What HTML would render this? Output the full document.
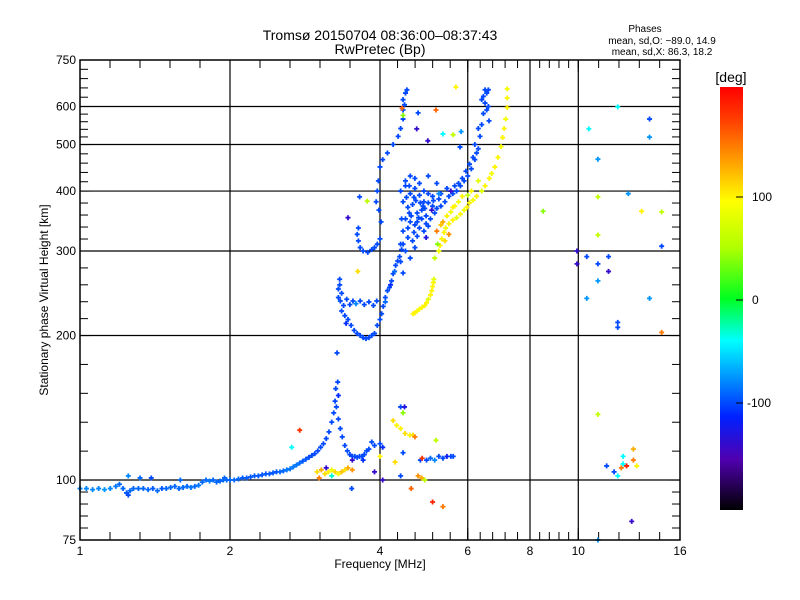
<!DOCTYPE html>
<html><head><meta charset="utf-8"><style>
body{margin:0;background:#fff;}
svg{display:block;font-family:"Liberation Sans",sans-serif;}
</style></head><body>
<svg id="chart" width="800" height="600" viewBox="0 0 800 600">
<defs>
<linearGradient id="cb" x1="0" y1="0" x2="0" y2="1">
<stop offset="0" stop-color="#ff0000"/>
<stop offset="0.08" stop-color="#ff4000"/>
<stop offset="0.17" stop-color="#ff9a00"/>
<stop offset="0.27" stop-color="#ffff00"/>
<stop offset="0.38" stop-color="#b0ff00"/>
<stop offset="0.50" stop-color="#00ff20"/>
<stop offset="0.60" stop-color="#00ffff"/>
<stop offset="0.69" stop-color="#0090ff"/>
<stop offset="0.78" stop-color="#0020ff"/>
<stop offset="0.88" stop-color="#5000b0"/>
<stop offset="1" stop-color="#000000"/>
</linearGradient>
</defs>
<text x="380" y="40" font-size="14" text-anchor="middle">Tromsø 20150704 08:36:00–08:37:43</text>
<text x="380" y="54" font-size="14" text-anchor="middle">RwPretec (Bp)</text>
<g font-size="10" text-anchor="middle">
<text x="645" y="32">Phases</text>
<text x="662" y="44">mean, sd,O: −89.0, 14.9</text>
<text x="662" y="55">mean, sd,X:  86.3, 18.2</text>
</g>
<g id="grid"></g>
<g id="ticks"></g>
<g id="marks"></g>
<rect x="80" y="60" width="600" height="480" fill="none" stroke="#000" stroke-width="1.5"/>
<g id="xlabels" font-size="12" text-anchor="middle"></g>
<g id="ylabels" font-size="12" text-anchor="end"></g>
<text x="380" y="568" font-size="12" text-anchor="middle">Frequency [MHz]</text>
<text x="48" y="300" font-size="12" text-anchor="middle" transform="rotate(-90 48 300)">Stationary phase Virtual Height [km]</text>
<rect x="720" y="87" width="23" height="423" fill="url(#cb)"/>
<text x="731" y="82" font-size="14" text-anchor="middle">[deg]</text>
<g id="cblabels" font-size="12"></g>
</svg>
<script>
const xMajor=[1,2,4,6,8,10,16];
const xGrid=[2,4,6,8,10];
const yMajor=[75,100,200,300,400,500,600,750];
const yGrid=[100,200,300,400,500,600];
const cbTicks=[100,0,-100];
// [freq MHz, height km, phase deg]
const eTrace=[[1.00,96,-80],[1.03,96,-80],[1.06,95.5,-80],[1.09,96,-80],[1.12,95.5,-75],[1.15,96,-80],[1.18,97,-85],[1.20,98,-90],[1.22,96,-90],[1.24,94,-95],[1.26,95,-90],[1.28,96,-90],[1.31,96,-90],[1.34,96,-90],[1.37,95.5,-90],[1.40,96,-95],[1.43,95,-90],[1.46,96,-95],[1.49,96,-90],[1.52,96.5,-90],[1.55,97,-90],[1.58,96,-90],[1.61,96.5,-90],[1.64,97,-90],[1.67,96.5,-85],[1.70,97,-90],[1.73,97.5,-85],[1.76,99,-90],[1.79,100,-90],[1.82,99.5,-85],[1.85,100,-90],[1.88,99,-90],[1.91,99.5,-90],[1.94,100,-90],[1.97,100,-90],[2.00,100,-90],[2.04,100,-90],[2.08,100.5,-90],[2.12,101,-95],[2.16,101,-95],[2.20,101.5,-95],[2.24,102,-95],[2.28,102,-95],[2.32,102.5,-95],[2.36,103,-95],[2.40,103,-95],[2.44,103.5,-95],[2.48,104,-95],[2.52,104,-90],[2.56,104.5,-90],[2.60,105,-85],[2.64,105.5,-85],[2.68,106.5,-85],[2.72,107.5,-85],[2.76,108.5,-90],[2.80,109.5,-95],[2.84,110.5,-95],[2.88,111.5,-100],[2.92,112.5,-100],[2.96,113.5,-100],[3.00,115,-100],[3.04,117,-100],[3.08,119,-100],[3.12,122,-100],[3.16,126,-100],[3.20,132,-100],[3.23,138,-100],[3.25,146,-100],[3.27,142,-100],[3.30,134,-100],[3.33,128,-100],[3.36,123,-100],[3.40,118,-100],[3.44,115,-100],[3.48,113,-100],[3.52,112,-100],[3.56,112,-100],[3.60,111.5,-100],[3.64,112,-100],[3.68,112,-100],[3.72,113,-100],[3.76,115,-100],[3.80,116,-100],[3.26,155,-100],[3.29,160,-100],[3.30,150,-110],[1.25,93,-100],[1.25,102,-80],[1.32,101,-90],[1.39,101,-100],[1.59,100,-90],[1.95,101,-90],[3.85,120,-100],[3.90,118,-100],[4.00,119,-100],[4.05,117,-110],[3.70,110,-110]];
const eScatter=[[2.76,127,180],[2.66,117,-40],[2.99,104,110],[3.05,105,130],[3.10,103,110],[3.15,104,100],[3.20,105,90],[3.25,104,110],[3.30,103,100],[3.35,104,120],[3.40,105,110],[3.45,106,130],[3.52,105,140],[3.02,101,150],[3.12,106,-140],[3.20,102,-30],[3.51,96,-100],[3.90,104,-140],[3.52,110,-140],[4.40,142,-100],[4.48,142,-130],[4.45,138,40],[4.25,133,110],[4.32,130,100],[4.40,128,100],[4.49,125,110],[4.59,124,100],[4.66,124,110],[4.70,123,150],[4.45,114,-100],[4.29,109,110],[4.82,110,-100],[4.86,111,180],[4.96,110,-100],[5.05,111,-90],[5.15,110,-80],[5.25,112,-100],[5.35,111,-100],[5.45,112,-120],[5.55,112,-100],[5.61,112,-100],[4.77,102,140],[4.85,101,130],[4.92,100,60],[5.18,121,60],[4.62,96,160],[5.10,90,190],[5.35,88,150],[4.40,102,-100],[4.05,100,-140],[4.00,112,100]];
const fLeft=[[3.30,250,-100],[3.32,255,-100],[3.35,245,-100],[3.30,240,-100],[3.33,236,-100],[3.38,231,-100],[3.43,238,-100],[3.48,232,-100],[3.53,236,-100],[3.58,233,-80],[3.65,236,-100],[3.72,232,-100],[3.80,235,-100],[3.88,231,-100],[3.94,236,-100],[3.35,225,-100],[3.40,220,-100],[3.45,216,-100],[3.50,210,-100],[3.55,205,-100],[3.60,202,-100],[3.65,200,-100],[3.70,198,-100],[3.75,197,-100],[3.80,198,-100],[3.85,200,-100],[3.90,202,-100],[3.42,212,-110],[3.32,262,-100],[3.60,325,-100],[3.62,315,-100],[3.65,305,-100],[3.70,300,-100],[3.78,298,-100],[3.85,302,-100],[3.90,305,-100],[3.95,310,-100],[4.00,318,-100],[3.62,335,-100],[3.45,352,-140],[3.77,381,60],[3.64,389,-100],[3.28,184,-100],[3.61,272,110]];
const fRise=[[3.95,210,-100],[4.00,216,-100],[4.03,222,-100],[4.06,230,-100],[4.10,240,-100],[4.14,248,-100],[4.18,252,-100],[4.22,260,-100],[4.25,269,-100],[4.30,280,-100],[4.34,286,-100],[4.38,292,-100],[4.42,302,-100],[4.45,310,-100],[4.10,235,-90],[4.20,255,-110],[4.28,272,-90],[3.95,400,-100],[3.97,420,-100],[4.00,449,-100],[4.05,465,-100],[4.14,480,-100],[4.25,500,-100],[4.35,520,-100],[4.40,540,-100],[4.45,565,-100],[4.45,590,-100],[4.45,620,-100],[4.50,640,-100],[4.53,650,-100],[4.48,605,-100],[3.93,380,-100],[3.98,365,-100],[4.02,345,-100],[4.43,595,160],[4.45,575,40]];
const fBlob=[[4.40,400,-100],[4.50,410,-100],[4.60,395,-100],[4.70,405,-100],[4.80,392,-100],[4.90,380,-100],[5.00,378,-100],[5.10,372,-100],[5.20,368,-100],[5.30,372,-100],[4.45,380,-100],[4.55,370,-100],[4.65,375,-100],[4.75,360,-100],[4.85,365,-100],[4.95,355,-100],[5.05,350,-100],[5.15,360,-100],[4.50,350,-100],[4.60,345,-100],[4.70,340,-100],[4.80,335,-100],[4.90,330,-100],[5.00,338,-100],[4.45,330,-100],[4.55,320,-100],[4.65,315,-100],[4.75,345,-100],[4.85,350,-100],[4.95,342,-100],[4.40,310,-100],[4.50,300,-100],[4.60,290,-100],[4.70,305,-100],[4.40,285,-100],[4.45,270,-100],[4.50,420,-100],[4.60,430,-100],[4.70,425,-100],[4.80,415,-100],[4.90,400,-100],[5.00,395,-100],[5.10,390,-100],[5.25,385,-100],[5.40,380,-100],[5.50,390,-100],[5.60,395,-100],[5.70,400,-100],[5.80,410,-100],[5.90,420,-100],[6.00,430,-100],[6.10,445,-100],[6.20,465,-100],[6.30,490,-100],[6.35,520,-100],[6.40,550,-100],[6.45,580,-100],[6.50,610,-100],[6.55,640,-100],[6.40,620,-100],[6.60,600,-100],[6.30,540,-100],[6.20,500,-100],[6.50,650,-100],[6.62,560,-100],[6.15,470,-100],[5.95,440,-100],[5.65,410,-100],[5.00,430,-100],[5.20,415,-100],[5.45,405,-100],[5.30,395,-100],[4.58,360,-100],[4.68,388,-100],[4.88,372,-100],[5.08,365,-140],[4.95,320,-130],[5.25,395,-80],[6.25,480,-100],[6.45,630,-100],[6.60,650,-100],[6.05,455,-100],[5.85,425,-100],[5.55,400,-140],[5.75,415,-100],[6.55,590,-100],[4.55,335,-100],[4.75,322,-100],[4.62,355,-100],[4.72,382,-100],[4.82,378,-100],[4.52,388,-100],[4.92,368,-100],[5.12,382,-100],[4.42,350,-100],[4.58,410,-100],[4.78,352,-100],[4.68,328,-100]];
const xTrace=[[4.66,222,100],[4.70,223,100],[4.75,225,100],[4.80,227,90],[4.86,229,100],[4.92,231,100],[4.96,234,100],[5.00,238,80],[5.05,243,100],[5.08,248,100],[5.10,253,100],[5.12,258,100],[5.13,262,80],[5.25,300,90],[5.28,308,100],[5.32,318,100],[5.38,328,100],[5.42,335,90],[5.50,342,100],[5.60,348,100],[5.70,352,80],[5.80,358,100],[5.90,365,90],[5.98,370,100],[6.05,378,100],[6.15,383,90],[6.25,390,100],[6.40,400,80],[6.50,410,100],[6.63,425,100],[6.70,435,90],[6.80,449,100],[6.90,470,100],[7.00,495,90],[7.05,517,100],[7.10,540,100],[7.15,565,90],[7.20,597,100],[7.20,625,100],[7.20,653,90],[5.35,345,130],[5.45,355,100],[5.55,362,90],[5.65,372,100],[5.20,330,150],[5.30,340,120],[5.60,370,100],[5.75,380,90],[5.85,390,100],[6.10,400,100],[6.30,420,80],[5.50,325,140],[5.40,315,110],[5.15,290,60],[5.22,310,40],[6.00,392,60]];
const farScatter=[[5.68,659,100],[5.18,590,160],[4.77,582,-100],[4.74,539,-140],[5.35,526,-40],[5.82,532,-75],[5.61,524,60],[5.79,494,-100],[4.99,509,-140],[12.0,599,-40],[13.9,565,-100],[10.5,539,-40],[13.9,518,-75],[10.95,466,-75],[10.95,389,60],[12.6,395,-75],[8.50,363,40],[13.4,363,100],[14.7,362,60],[10.95,324,60],[14.7,307,-100],[9.94,300,-140],[10.4,292,-100],[11.5,292,-100],[9.94,282,-140],[10.95,282,-100],[11.5,272,-140],[10.95,260,-75],[10.4,239,-75],[13.9,239,-75],[12.0,213,-100],[12.0,208,-100],[14.7,203,150],[10.95,137,60],[12.9,116,130],[12.3,112,-40],[12.9,110,150],[12.3,108,-40],[13.1,107,100],[11.4,107,-100],[12.5,107,190],[12.2,106,150],[11.8,104,-100],[12.0,102,-40],[12.8,82,-140],[10.95,75,-75]];

const X0=80,X1=680,Y0=540,Y1=60;
function xs(f){return X0+150*Math.log2(f);}
function ys(h){return Y0-480*Math.log10(h/75);}
function cy(p){return 300-p*1.03;}
const cStops=[[87,[255,0,0]],[121,[255,64,0]],[159,[255,154,0]],[201,[255,255,0]],[248,[176,255,0]],[298,[0,255,32]],[341,[0,255,255]],[379,[0,144,255]],[417,[0,32,255]],[459,[80,0,176]],[510,[0,0,0]]];
function col(p){const y=Math.max(87,Math.min(510,cy(p)));for(let i=0;i<cStops.length-1;i++){const a=cStops[i],b=cStops[i+1];if(y>=a[0]&&y<=b[0]){const t=(y-a[0])/(b[0]-a[0]);return 'rgb('+a[1].map((v,k)=>Math.round(v+(b[1][k]-v)*t)).join(',')+')';}}return '#000';}
const NS='http://www.w3.org/2000/svg';
function mk(tag,attrs,parent){const e=document.createElementNS(NS,tag);for(const k in attrs)e.setAttribute(k,attrs[k]);parent.appendChild(e);return e;}
const grid=document.getElementById('grid');
xGrid.forEach(v=>{const l=mk('line',{x1:xs(v),x2:xs(v),y1:Y1,y2:Y0,stroke:'#000','stroke-width':1.2},grid);

});
yGrid.forEach(v=>{const l=mk('line',{x1:X0,x2:X1,y1:ys(v),y2:ys(v),stroke:'#000','stroke-width':1.2},grid);

});
const tk=document.getElementById('ticks');
for(let i=0;i<xMajor.length-1;i++){const a=xs(xMajor[i]),b=xs(xMajor[i+1]);for(let j=0;j<=5;j++){const x=a+(b-a)*j/5;const len=j==0?12:8;
mk('line',{x1:x,x2:x,y1:Y0,y2:Y0-len,stroke:'#000'},tk);mk('line',{x1:x,x2:x,y1:Y1,y2:Y1+len,stroke:'#000'},tk);}}
for(let i=0;i<yMajor.length-1;i++){const a=ys(yMajor[i]),b=ys(yMajor[i+1]);for(let j=0;j<=5;j++){const y=a+(b-a)*j/5;const len=j==0?12:8;
mk('line',{x1:X0,x2:X0+len,y1:y,y2:y,stroke:'#000'},tk);mk('line',{x1:X1,x2:X1-len,y1:y,y2:y,stroke:'#000'},tk);}}
const xl=document.getElementById('xlabels');
xMajor.forEach(v=>{const t=mk('text',{x:xs(v),y:555},xl);t.textContent=v;

});
const yl=document.getElementById('ylabels');
yMajor.forEach(v=>{const t=mk('text',{x:76,y:ys(v)+4},yl);t.textContent=v;

});
const cbl=document.getElementById('cblabels');
cbTicks.forEach(v=>{const t=mk('text',{x:v<0?747:752,y:cy(v)+4},cbl);t.textContent=v<0?'-'+(-v):v;


mk('line',{x1:736,x2:743,y1:cy(v),y2:cy(v),stroke:'#000'},cbl);});
const marks=document.getElementById('marks');
[['e-trace',eTrace],['e-scatter',eScatter],['f-left-trace',fLeft],['f-rise-trace',fRise],['f-o-blob',fBlob],['x-mode-trace',xTrace],['far-scatter',farScatter]].forEach(([name,arr])=>{
const g=mk('g',{},marks);


arr.forEach(d=>{const x=xs(d[0]),y=ys(d[1]),c=col(d[2]);
const p=mk('path',{d:'M'+(x-2.5)+' '+y+'h5M'+x+' '+(y-2.5)+'v5',stroke:c,'stroke-width':1.8,fill:'none'},g);

});});
</script>
</body></html>
